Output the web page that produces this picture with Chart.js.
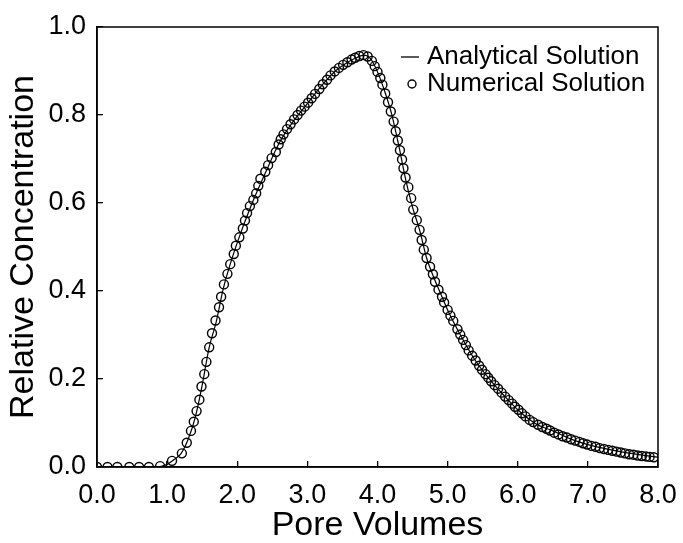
<!DOCTYPE html>
<html>
<head>
<meta charset="utf-8">
<title>Relative Concentration vs Pore Volumes</title>
<script src="https://cdn.jsdelivr.net/npm/chart.js@4.4.1/dist/chart.umd.min.js"></script>
<style>
  html, body { margin: 0; padding: 0; background: #fff; }
  canvas { display: block; }
</style>
</head>
<body>
<canvas id="chart" width="683" height="543"></canvas>
<script>
// numerical solution (circles)
const numX = [0, 0.15, 0.29, 0.46, 0.60, 0.74, 0.90, 1.07, 1.21, 1.28, 1.34, 1.38, 1.42, 1.46, 1.49,
    1.53, 1.56, 1.60, 1.64, 1.69, 1.74, 1.77, 1.81, 1.86, 1.90, 1.95, 1.98, 2.03, 2.08, 2.11, 2.14,
    2.18, 2.23, 2.27, 2.30, 2.33, 2.40, 2.44, 2.49, 2.55, 2.59, 2.62, 2.66, 2.71, 2.76, 2.81, 2.86,
    2.91, 2.96, 3.01, 3.06, 3.11, 3.17, 3.22, 3.28, 3.33, 3.39, 3.45, 3.51, 3.57, 3.63, 3.68, 3.74,
    3.80, 3.86, 3.92, 3.96, 4.00, 4.04, 4.07, 4.11, 4.15, 4.19, 4.23, 4.26, 4.29, 4.32, 4.35, 4.37,
    4.40, 4.44, 4.48, 4.51, 4.56, 4.60, 4.63, 4.66, 4.70, 4.75, 4.79, 4.82, 4.87, 4.92, 4.95, 5.00,
    5.04, 5.08, 5.14, 5.18, 5.22, 5.26, 5.30, 5.35, 5.40, 5.45, 5.49, 5.54, 5.58, 5.62, 5.67, 5.72,
    5.77, 5.82, 5.87, 5.92, 5.96, 6.01, 6.06, 6.11, 6.17, 6.22, 6.29, 6.35, 6.41, 6.46, 6.52, 6.58,
    6.64, 6.70, 6.76, 6.82, 6.88, 6.93, 6.99, 7.05, 7.11, 7.17, 7.23, 7.29, 7.35, 7.41, 7.47, 7.53,
    7.59, 7.65, 7.71, 7.77, 7.83, 7.88, 7.94];
const numY = [0, 0, 0, 0, 0, 0, 0.002, 0.014, 0.031, 0.055, 0.082, 0.103, 0.127, 0.153, 0.183,
    0.211, 0.239, 0.272, 0.304, 0.333, 0.363, 0.387, 0.415, 0.439, 0.461, 0.484, 0.503, 0.522, 0.542, 0.560, 0.577,
    0.593, 0.607, 0.622, 0.639, 0.655, 0.671, 0.686, 0.702, 0.716, 0.733, 0.745, 0.756, 0.768, 0.779, 0.790, 0.800,
    0.810, 0.819, 0.828, 0.838, 0.848, 0.859, 0.870, 0.880, 0.890, 0.899, 0.907, 0.914, 0.920, 0.926, 0.930, 0.934,
    0.936, 0.933, 0.923, 0.911, 0.898, 0.884, 0.869, 0.849, 0.829, 0.808, 0.785, 0.763, 0.742, 0.720, 0.699, 0.679,
    0.658, 0.636, 0.611, 0.585, 0.561, 0.539, 0.516, 0.494, 0.475, 0.455, 0.438, 0.421, 0.403, 0.387, 0.374, 0.357,
    0.344, 0.332, 0.313, 0.301, 0.289, 0.277, 0.265, 0.253, 0.242, 0.230, 0.221, 0.211, 0.203, 0.195, 0.186, 0.178,
    0.169, 0.160, 0.152, 0.144, 0.137, 0.130, 0.122, 0.115, 0.107, 0.102, 0.096, 0.091, 0.087, 0.083, 0.078, 0.074,
    0.070, 0.067, 0.063, 0.060, 0.057, 0.054, 0.051, 0.048, 0.046, 0.043, 0.041, 0.039, 0.037, 0.035, 0.033, 0.031,
    0.029, 0.028, 0.026, 0.025, 0.024, 0.023, 0.022];

// analytical solution (line)
const anaX = [0, 0.8, 0.9, 1.0, 1.1, 1.2, 1.3, 1.4, 1.5, 1.6, 1.7, 1.8, 1.9, 2.0, 2.2, 2.4, 2.6, 2.8,
    3.0, 3.2, 3.4, 3.6, 3.7, 3.8, 3.9, 4.0, 4.1, 4.2, 4.3, 4.4, 4.5, 4.6, 4.7, 4.8, 4.9, 5.0, 5.2, 5.4,
    5.6, 5.8, 6.0, 6.25, 6.5, 6.75, 7.0, 7.5, 8.0];
const anaY = [0, 0, 0.001, 0.006, 0.017, 0.031, 0.063, 0.112, 0.186, 0.272, 0.330, 0.405, 0.461, 0.510,
    0.595, 0.668, 0.737, 0.786, 0.826, 0.866, 0.900, 0.922, 0.930, 0.936, 0.928, 0.898, 0.855, 0.803,
    0.733, 0.655, 0.590, 0.539, 0.475, 0.432, 0.394, 0.357, 0.295, 0.241, 0.199, 0.163, 0.130, 0.099,
    0.082, 0.064, 0.051, 0.034, 0.022];

const xTicks = [0, 1, 2, 3, 4, 5, 6, 7, 8];
const yTicks = [0, 0.2, 0.4, 0.6, 0.8, 1.0];

const FONT = '"Liberation Sans", Arial, Helvetica, sans-serif';
Chart.defaults.font.family = FONT;
Chart.defaults.color = '#000';

function toPoints(xs, ys) {
    return xs.map((x, i) => ({x: x, y: ys[i]}));
}

// box around the plot area (top and right edges too)
const frame = {
    id: 'frame',
    afterDraw(chart) {
        const {ctx, chartArea: a} = chart;
        ctx.save();
        ctx.strokeStyle = '#000';
        ctx.lineWidth = 1.5;
        ctx.strokeRect(a.left, a.top, a.right - a.left, a.bottom - a.top);
        ctx.restore();
    }
};

// legend drawn inside the plot, upper right
const insideLegend = {
    id: 'insideLegend',
    afterDraw(chart) {
        const {ctx, chartArea: a} = chart;
        const ds = chart.data.datasets;
        const textX = a.right - 231;
        ctx.save();
        ctx.font = '26px ' + FONT;
        ctx.fillStyle = '#000';
        ctx.textBaseline = 'middle';
        // analytical: short line
        let y = a.top + 30;
        ctx.strokeStyle = '#000';
        ctx.lineWidth = 1.3;
        ctx.beginPath();
        ctx.moveTo(a.right - 257, y);
        ctx.lineTo(a.right - 239, y);
        ctx.stroke();
        ctx.fillText(ds[0].label, textX, y);
        // numerical: circle
        y = a.top + 57;
        ctx.lineWidth = 1.4;
        ctx.beginPath();
        ctx.arc(a.right - 246, y, 4, 0, Math.PI * 2);
        ctx.stroke();
        ctx.fillText(ds[1].label, textX, y);
        ctx.restore();
    }
};

new Chart(document.getElementById('chart'), {
    type: 'scatter',
    data: {
        datasets: [{
            label: 'Analytical Solution',
            data: toPoints(anaX, anaY),
            showLine: true,
            borderColor: '#000',
            borderWidth: 1.2,
            pointRadius: 0,
            cubicInterpolationMode: 'monotone'
        }, {
            label: 'Numerical Solution',
            data: toPoints(numX, numY),
            showLine: false,
            pointStyle: 'circle',
            pointRadius: 4.5,
            borderWidth: 1.4,
            borderColor: '#000',
            backgroundColor: 'rgba(0,0,0,0)'
        }]
    },
    options: {
        responsive: false,
        animation: false,
        layout: {padding: {left: 0, right: 25, top: 27, bottom: 0}},
        plugins: {
            legend: {display: false},
            tooltip: {enabled: false}
        },
        scales: {
            x: {
                type: 'linear',
                min: 0,
                max: 8,
                afterBuildTicks: s => { s.ticks = xTicks.map(v => ({value: v})); },
                afterFit: s => {
                    s.height = 76;
                    s.paddingLeft = 0;
                    s.paddingRight = 0;
                },
                ticks: {
                    callback: v => v.toFixed(1),
                    font: {size: 27},
                    color: '#000',
                    padding: 18,
                    maxRotation: 0
                },
                grid: {drawOnChartArea: false, tickLength: -6, color: '#000', lineWidth: 1.3},
                border: {color: '#000', width: 1.5},
                title: {
                    display: true,
                    text: 'Pore Volumes',
                    font: {size: 34, lineHeight: 1},
                    color: '#000',
                    padding: {top: 0, bottom: 0}
                }
            },
            y: {
                type: 'linear',
                min: 0,
                max: 1,
                afterBuildTicks: s => { s.ticks = yTicks.map(v => ({value: v})); },
                afterFit: s => {
                    s.width = 97;
                    s.paddingTop = 0;
                    s.paddingBottom = 0;
                },
                ticks: {
                    callback: v => v.toFixed(1),
                    font: {size: 27},
                    color: '#000',
                    padding: 17
                },
                grid: {drawOnChartArea: false, tickLength: -6, color: '#000', lineWidth: 1.3},
                border: {color: '#000', width: 1.5},
                title: {
                    display: true,
                    text: 'Relative Concentration',
                    font: {size: 34, lineHeight: 1},
                    color: '#000',
                    padding: {top: 7, bottom: 0}
                }
            }
        }
    },
    plugins: [frame, insideLegend]
});
</script>
</body>
</html>
